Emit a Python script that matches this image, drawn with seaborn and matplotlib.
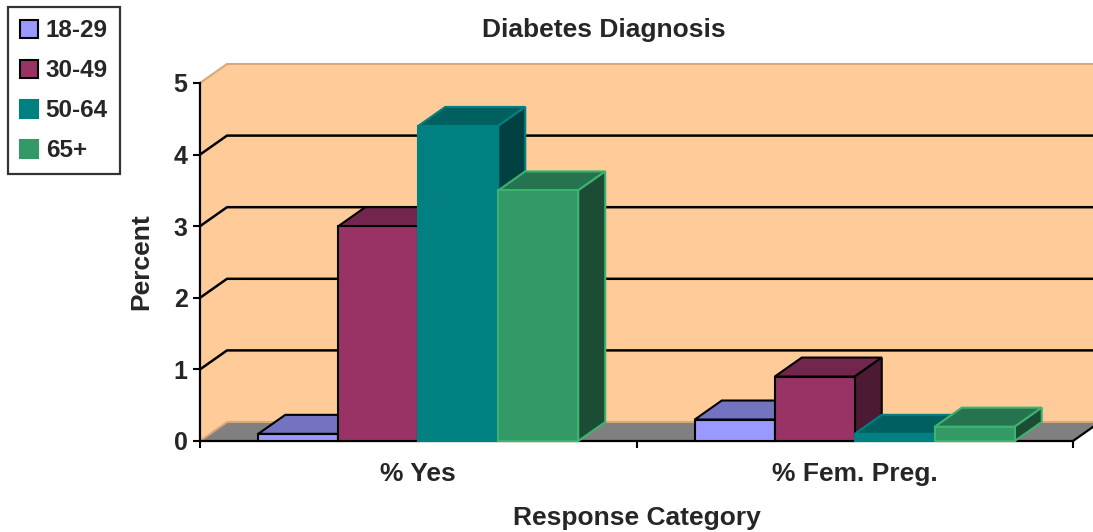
import matplotlib
matplotlib.use("Agg")
import matplotlib.pyplot as plt
from matplotlib.patches import Polygon, Patch
import seaborn as sns
import pandas as pd

# ---- data ----
categories = ["% Yes", "% Fem. Preg."]
age_groups = ["18-29", "30-49", "50-64", "65+"]
yes_values = [0.1, 3.0, 4.4, 3.5]
preg_values = [0.3, 0.9, 0.1, 0.2]
y_ticks = [0, 1, 2, 3, 4, 5]

front_colors = ["#9999FF", "#993366", "#008080", "#339966"]
top_colors = ["#7373C0", "#73264D", "#006060", "#267350"]
side_colors = ["#4D4D80", "#4D1A33", "#004040", "#1C4C33"]
edge_colors = ["#000000", "#000000", "#008080", "#3CB371"]

df = pd.DataFrame({
    "category": [c for c in categories for _ in age_groups],
    "group": age_groups * len(categories),
    "value": yes_values + preg_values,
})

sns.set_theme(style="white")
plt.rcParams["font.family"] = ["Liberation Sans", "DejaVu Sans"]
plt.rcParams["font.weight"] = "bold"

W, H = 1093, 532
fig = plt.figure(figsize=(W / 100, H / 100), dpi=100)
ax = fig.add_axes([200 / W, 91 / H, 873 / W, 358 / H])

sns.barplot(data=df, x="category", y="value", hue="group", order=categories,
            hue_order=age_groups, palette=front_colors, width=0.733,
            errorbar=None, legend=False, ax=ax, saturation=1)

ax.set_xlim(-0.5, 1.5)
ax.set_ylim(0, 5)
ax.patch.set_visible(False)

# depth of the 3-D look, in data units
px_x = 873 / 2.0
px_y = 358 / 5.0
DX = 27 / px_x
DY = 19 / px_y

x0, x1 = -0.5, 1.5
wall_c = "#FFCC99"
wall_edge = "#D9A877"

# back wall, left wall, floor
ax.add_patch(Polygon([(x0 + DX, DY), (x1 + DX + 0.2, DY), (x1 + DX + 0.2, 5 + DY), (x0 + DX, 5 + DY)],
                     closed=True, fc=wall_c, ec="none", zorder=0.5, clip_on=False))
ax.add_patch(Polygon([(x0, 0), (x0, 5), (x0 + DX, 5 + DY), (x0 + DX, DY)],
                     closed=True, fc=wall_c, ec="none", zorder=0.5, clip_on=False))
ax.add_patch(Polygon([(x0, 0), (x1, 0), (x1 + DX, DY), (x0 + DX, DY)],
                     closed=True, fc="#808080", ec="none", zorder=0.6, clip_on=False))

# wall outline
ax.plot([x0, x0 + DX, x1 + DX + 0.2], [5, 5 + DY, 5 + DY], color=wall_edge, lw=1.5,
        zorder=1, clip_on=False)
ax.plot([x0, x0 + DX, x1 + DX + 0.2], [0, DY, DY], color=wall_edge, lw=1.5,
        zorder=1, clip_on=False)
# gridlines across the left and back walls
for yv in y_ticks[1:-1]:
    ax.plot([x0, x0 + DX, x1 + DX + 0.2], [yv, yv + DY, yv + DY], color="black", lw=1.8,
            zorder=1.2, clip_on=False, solid_capstyle="butt")
# right floor edge
ax.plot([x1, x1 + DX], [0, DY], color="black", lw=1.6, zorder=1.2, clip_on=False)

# turn the flat bars into boxes
for i, cont in enumerate(ax.containers):
    for bar in cont.patches:
        bx0 = bar.get_x()
        bx1 = bx0 + bar.get_width()
        h = bar.get_height()
        ax.add_patch(Polygon([(bx0, h), (bx1, h), (bx1 + DX, h + DY), (bx0 + DX, h + DY)],
                             closed=True, fc=top_colors[i], ec=edge_colors[i], lw=1.5,
                             joinstyle="miter", zorder=10 + 2 * i, clip_on=False))
        ax.add_patch(Polygon([(bx1, 0), (bx1, h), (bx1 + DX, h + DY), (bx1 + DX, DY)],
                             closed=True, fc=side_colors[i], ec=edge_colors[i], lw=1.5,
                             joinstyle="miter", zorder=10 + 2 * i, clip_on=False))
        bar.set_edgecolor(edge_colors[i])
        bar.set_linewidth(1.5)
        bar.set_joinstyle("miter")
        bar.set_zorder(11 + 2 * i)
        bar.set_clip_on(False)

# axes and ticks
for s in ["top", "right"]:
    ax.spines[s].set_visible(False)
for s in ["left", "bottom"]:
    ax.spines[s].set_color("black")
    ax.spines[s].set_linewidth(1.6)
ax.spines["bottom"].set_zorder(9)

ax.set_yticks(y_ticks)
ax.set_yticklabels([str(v) for v in y_ticks])
ax.tick_params(axis="y", direction="out", length=5, width=1.5, color="black",
               labelsize=18, pad=4, left=True)
ax.set_xticks([0, 1])
ax.set_xticklabels(categories)
ax.set_xticks([-0.5, 0.5, 1.5], minor=True)
ax.tick_params(axis="x", which="major", length=0, labelsize=19, pad=15)
ax.tick_params(axis="x", which="minor", direction="out", length=5, width=1.5,
               color="black", bottom=True)
for lbl in ax.get_xticklabels() + ax.get_yticklabels():
    lbl.set_fontweight("bold")

ax.set_xlabel("Response Category", fontsize=19, fontweight="bold")
ax.xaxis.set_label_coords(0.5, -0.182)
ax.set_ylabel("Percent", fontsize=19, fontweight="bold")
ax.yaxis.set_label_coords(-0.053, 0.5)

fig.text(604 / W, 1 - 30 / H, "Diabetes Diagnosis", fontsize=19, fontweight="bold",
         ha="center", va="center")

handles = [Patch(facecolor=front_colors[i],
                 edgecolor="black" if i < 2 else front_colors[i], linewidth=1.5)
           for i in range(len(age_groups))]
leg = fig.legend(handles, age_groups, loc="upper left",
                 bbox_to_anchor=(8 / W, 1 - 7 / H), borderaxespad=0,
                 prop={"size": 17.5, "weight": "bold"}, frameon=True, fancybox=False,
                 handlelength=0.75, handleheight=0.75, handletextpad=0.3,
                 labelspacing=0.7, borderpad=0.5)
leg.get_frame().set_edgecolor("black")
leg.get_frame().set_linewidth(1.6)

fig.savefig("out.png", dpi=100)
